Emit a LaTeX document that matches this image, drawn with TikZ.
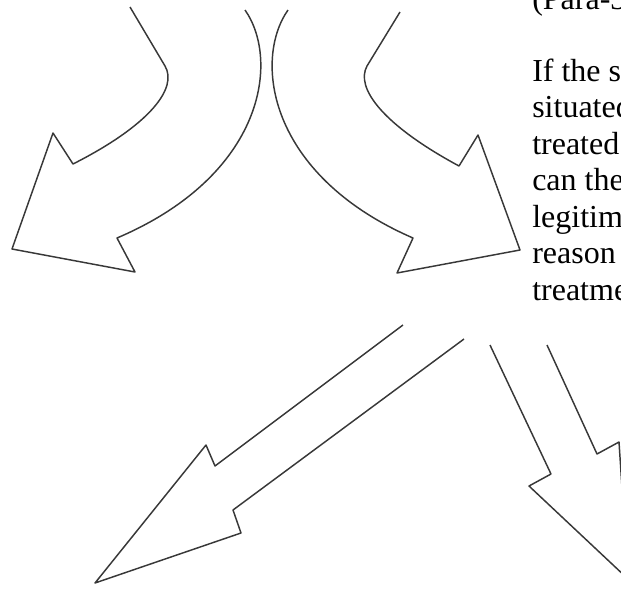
\documentclass[tikz,border=0pt]{standalone}
\usepackage{fontspec}
\setmainfont{Liberation Serif}
\usepackage{tikz}

\begin{document}
\begin{tikzpicture}[x=0.75pt, y=-0.75pt,
    outline/.style={draw=black!78, line width=1.1pt, line join=round},
    passage/.style={anchor=base west, inner sep=0pt, font=\fontsize{24pt}{26.25pt}\selectfont}]
                % Frame
                \useasboundingbox (0,0) rectangle (621,590);
                \clip (0,0) rectangle (621,590);

                % Upper arrows
                \draw[outline] (130,7) -- (165,66) .. controls (178,88) and (150,125) .. (73,164)
                    -- (53,133) -- (12,249) -- (135,272) -- (117,238)
                    .. controls (265,175) and (280,60) .. (245,10);
                \draw[outline] (400,12) -- (367,66) .. controls (355,88) and (383,125) .. (459,166)
                    -- (478,135) -- (520,250) -- (397,273) -- (413,238)
                    .. controls (268,175) and (253,60) .. (288,10);

                % Lower arrows
                \draw[outline] (403,325) -- (215,466) -- (206,445) -- (95,583)
                    -- (241,533) -- (233,510) -- (464,339);
                \draw[outline] (490,345) -- (551,474) -- (529,486) -- (628,579)
                    -- (619,442) -- (597,454) -- (547,345);

                % Passage
                \node[passage] (para) at (532,9) {(Para-3};
                \node[passage] (line1) at (532,81) {If the s};
                \node[passage] (line2) at (532,117.5) {situated};
                \node[passage] (line3) at (532,154) {treated};
                \node[passage] (line4) at (532,190.5) {can the};
                \node[passage] (line5) at (532,227) {legitim};
                \node[passage] (line6) at (532,263.5) {reason};
                \node[passage] (line7) at (532,300) {treatme};
            \end{tikzpicture}
\end{document}
